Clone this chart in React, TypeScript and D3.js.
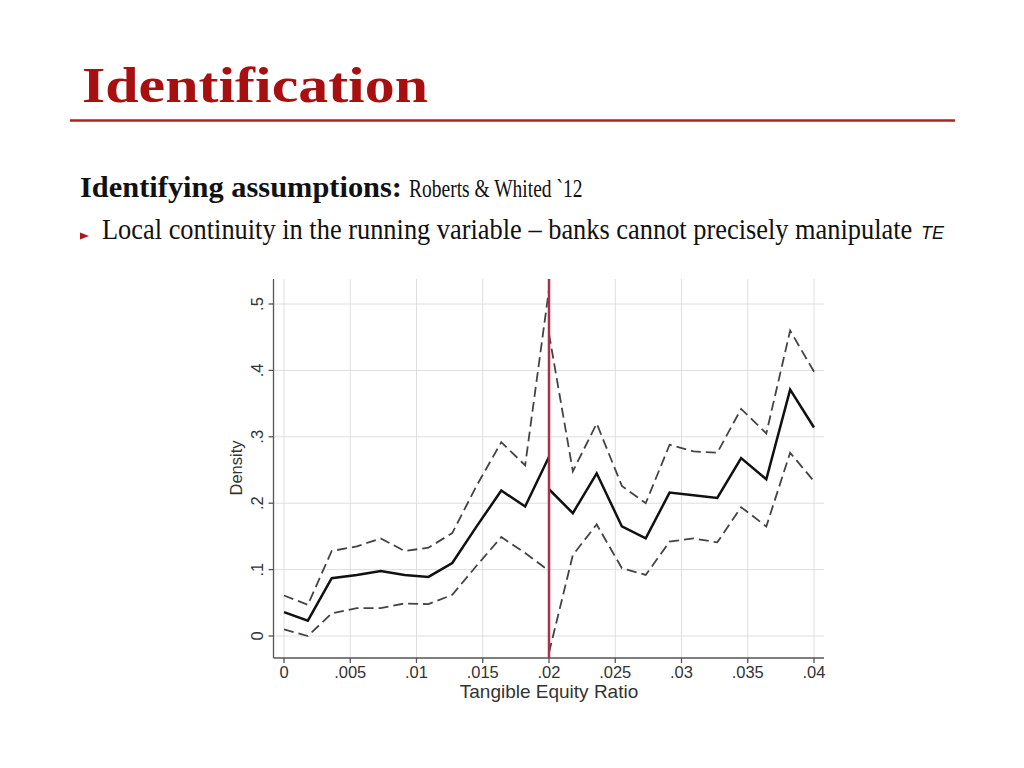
import React from 'react';
import * as d3 from 'd3';

// bins left / right of the .02 cutoff
const xLeft = [0, 0.0018, 0.0036, 0.0055, 0.0073, 0.0091, 0.0109, 0.0127, 0.0145, 0.0164, 0.0182, 0.02];
const xRight = [0.02, 0.0218, 0.0236, 0.0255, 0.0273, 0.0291, 0.0309, 0.0327, 0.0345, 0.0364, 0.0382, 0.04];

const leftFit = [0.036, 0.023, 0.087, 0.092, 0.098, 0.092, 0.089, 0.11, 0.164, 0.219, 0.195, 0.27];
const leftHi = [0.061, 0.047, 0.128, 0.135, 0.147, 0.128, 0.133, 0.155, 0.225, 0.292, 0.257, 0.522];
const leftLo = [0.01, 0.0, 0.034, 0.042, 0.042, 0.049, 0.048, 0.062, 0.105, 0.149, 0.125, 0.098];

const rightFit = [0.221, 0.185, 0.245, 0.165, 0.147, 0.216, 0.212, 0.208, 0.268, 0.236, 0.371, 0.314];
const rightHi = [0.455, 0.248, 0.32, 0.226, 0.2, 0.288, 0.278, 0.276, 0.342, 0.305, 0.46, 0.398];
const rightLo = [-0.025, 0.122, 0.168, 0.102, 0.092, 0.142, 0.147, 0.141, 0.194, 0.165, 0.276, 0.233];

const xTicks = [0, 0.005, 0.01, 0.015, 0.02, 0.025, 0.03, 0.035, 0.04];
const xTickLabels = ['0', '.005', '.01', '.015', '.02', '.025', '.03', '.035', '.04'];
const yTicks = [0, 0.1, 0.2, 0.3, 0.4, 0.5];
const yTickLabels = ['0', '.1', '.2', '.3', '.4', '.5'];

const cutoff = 0.02;

const App = () => {
  const x = d3.scaleLinear().domain([0, 0.04]).range([284, 814]);
  const y = d3.scaleLinear().domain([0, 0.5]).range([636, 304]);

  const plotLeft = 273.5;
  const plotRight = 824;
  const plotTop = 279;
  const plotBottom = 658;

  const line = d3.line<[number, number]>()
    .x((d) => x(d[0]))
    .y((d) => y(d[1]));

  const series = (xs: number[], ys: number[]) => line(xs.map((v, i) => [v, ys[i]] as [number, number])) || '';

  const solid = [series(xLeft, leftFit), series(xRight, rightFit)];
  const dashed = [series(xLeft, leftHi), series(xLeft, leftLo), series(xRight, rightHi), series(xRight, rightLo)];

  const sans = '"Liberation Sans", Arial, sans-serif';
  const serif = '"Liberation Serif", "Times New Roman", serif';

  return (
    <svg width={1024} height={768} style={{ position: 'absolute', left: 0, top: 0, background: '#fff' }}>
      {/* slide header */}
      <text x={82} y={102} fontFamily={serif} fontWeight="bold" fontSize={51} fill="#a80f10"
        textLength={346} lengthAdjust="spacingAndGlyphs">Identification</text>
      <line x1={70} x2={955} y1={120.5} y2={120.5} stroke="#b3201f" strokeWidth={2.5} />

      <text x={80} y={197} fontFamily={serif} fontWeight="bold" fontSize={30} fill="#111"
        textLength={322} lengthAdjust="spacingAndGlyphs">Identifying assumptions:</text>
      <text transform="translate(409,197) scale(0.78,1)" fontFamily={serif} fontSize={25} fill="#111">
        Roberts &amp; Whited `12
      </text>

      <polygon points="80,232.5 89,236 80,239.5" fill="#b01818" />
      <text transform="translate(102,239) scale(0.91,1)" fontFamily={serif} fontSize={29} fill="#111">
        Local continuity in the running variable – banks cannot precisely manipulate
      </text>
      <text x={921} y={239} fontFamily={sans} fontStyle="italic" fontSize={18} fill="#111">TE</text>

      {/* grid */}
      <g stroke="#dedede" strokeWidth={1}>
        {xTicks.map((t) => (
          <line key={'gx' + t} x1={x(t)} x2={x(t)} y1={plotTop} y2={plotBottom} />
        ))}
        {yTicks.map((t) => (
          <line key={'gy' + t} x1={plotLeft} x2={plotRight} y1={y(t)} y2={y(t)} />
        ))}
      </g>

      {/* axes */}
      <g stroke="#555" strokeWidth={1.3}>
        <line x1={plotLeft} x2={plotLeft} y1={plotTop} y2={plotBottom} />
        <line x1={plotLeft} x2={plotRight} y1={plotBottom} y2={plotBottom} />
        {xTicks.map((t) => (
          <line key={'tx' + t} x1={x(t)} x2={x(t)} y1={plotBottom} y2={plotBottom + 5} />
        ))}
        {yTicks.map((t) => (
          <line key={'ty' + t} x1={plotLeft - 5} x2={plotLeft} y1={y(t)} y2={y(t)} />
        ))}
      </g>

      {xTicks.map((t, i) => (
        <text key={'lx' + t} x={x(t)} y={677.5} textAnchor="middle" fontFamily={sans} fontSize={16.5} fill="#333">
          {xTickLabels[i]}
        </text>
      ))}
      {yTicks.map((t, i) => (
        <text key={'ly' + t} transform={`translate(262.5,${y(t)}) rotate(-90)`} textAnchor="middle"
          fontFamily={sans} fontSize={16.5} fill="#333">
          {yTickLabels[i]}
        </text>
      ))}

      <text x={549} y={698} textAnchor="middle" fontFamily={sans} fontSize={19} fill="#333">Tangible Equity Ratio</text>
      <text transform="translate(242,468) rotate(-90)" textAnchor="middle" fontFamily={sans} fontSize={16.5} fill="#333">Density</text>

      {/* confidence bands */}
      {dashed.map((d, i) => (
        <path key={'d' + i} d={d} fill="none" stroke="#444" strokeWidth={1.8} strokeDasharray="10,5" />
      ))}
      {/* fitted density */}
      {solid.map((d, i) => (
        <path key={'s' + i} d={d} fill="none" stroke="#111" strokeWidth={2.5} strokeLinejoin="miter" />
      ))}

      {/* cutoff */}
      <line x1={x(cutoff)} x2={x(cutoff)} y1={plotTop} y2={plotBottom} stroke="#a8324a" strokeWidth={2.5} />
    </svg>
  );
};

export default App;
